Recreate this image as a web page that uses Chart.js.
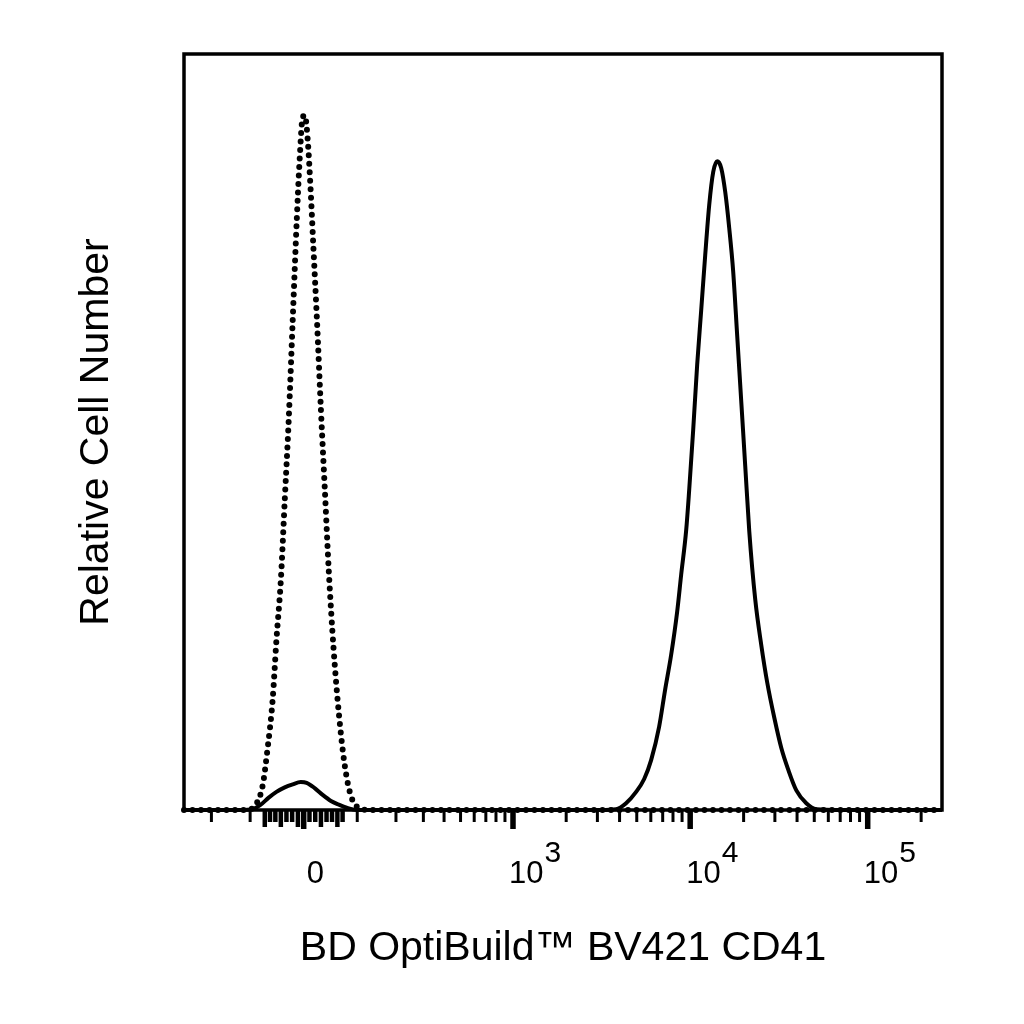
<!DOCTYPE html>
<html>
<head>
<meta charset="utf-8">
<script src="https://cdn.jsdelivr.net/npm/chart.js@4.4.1/dist/chart.umd.min.js"></script>
<style>
  html, body { margin: 0; padding: 0; background: #fff; }
</style>
</head>
<body>
<canvas id="histo" width="1024" height="1024"></canvas>
<script>
// fluorescence values (BV421) and relative counts
const stainedX = [-300, -121, -95, -78, -63, -48, -33, -19, -5, 5, 19, 33, 48, 63, 78, 99,
    1870, 3146, 3823, 4352, 4959, 5505, 6025, 6682, 7223, 7809, 8443, 8895, 9493, 9870,
    10400, 10950, 11535, 12152, 12797, 13484, 14206, 14964, 15764, 16588, 17471, 18404,
    19389, 20424, 21517, 23263, 25152, 27195, 29778, 32612, 35717, 39628, 45090, 51338,
    71070, 262144];
const stainedY = [0, 0, 0.1, 0.7, 1.6, 2.4, 3.0, 3.4, 3.7, 3.6, 2.9, 2.0, 1.2, 0.7, 0.3, 0,
    0, 0, 0.1, 0.9, 2.4, 4.1, 6.6, 11.0, 15.9, 20.5, 26.2, 31.1, 37.0, 42.3,
    50.3, 58.9, 66.1, 73.4, 80.0, 84.4, 85.8, 84.9, 81.7, 77.0, 71.2, 62.7,
    54.1, 45.5, 36.9, 27.8, 21.8, 16.8, 12.2, 8.2, 5.3, 2.6, 0.9, 0.1,
    0, 0];

const isotypeX = [-300, -121, -99, -86, -74, -65, -55, -48, -40, -33, -26, -19, -12, -7, -2,
    2, 7, 12, 17, 23, 30, 37, 44, 53, 63, 74, 86, 103, 131, 262144];
const isotypeY = [0, 0, 0.1, 0.9, 3.3, 7.9, 14.6, 22.5, 30.4, 41.0, 51.6, 64.8, 78.0, 86.0, 91.5,
    91.9, 88.6, 82.0, 74.1, 64.8, 52.9, 42.3, 31.7, 21.2, 12.6, 6.0, 2.0, 0.3, 0, 0];

const majorTicks = [0, 1000, 10000, 100000];
const majorExp = [null, 3, 4, 5];
const denseTicks = [-70, -60, -50, -40, -30, -20, -10, 10, 20, 30, 40, 50, 60, 70];
const minorTicks = [-200, -100, 100, 200, 300, 400, 500, 600, 700, 800, 900,
    2000, 3000, 4000, 5000, 6000, 7000, 8000, 9000,
    20000, 30000, 40000, 50000, 60000, 70000, 80000, 90000, 200000];

const xMin = -300, xMax = 262144;
const xTitle = 'BD OptiBuild™ BV421 CD41';
const yTitle = 'Relative Cell Number';

const FONT = '"Liberation Sans", Arial, sans-serif';

// biexponential-like axis (asinh)
const BIEX_W = 133;
function biex(v) { return Math.asinh(v / BIEX_W); }

class BiexScale extends Chart.Scale {
    determineDataLimits() {
        this.min = this.options.min;
        this.max = this.options.max;
    }
    buildTicks() {
        return majorTicks.map(v => ({ value: v }));
    }
    configure() {
        super.configure();
        this._biexStart = biex(this.min);
        this._biexRange = biex(this.max) - biex(this.min);
    }
    getPixelForValue(value) {
        return this.getPixelForDecimal((biex(value) - this._biexStart) / this._biexRange);
    }
    getValueForPixel(pixel) {
        const d = this.getDecimalForPixel(pixel);
        return BIEX_W * Math.sinh(this._biexStart + d * this._biexRange);
    }
}
BiexScale.id = 'biex';
BiexScale.defaults = {};
Chart.register(BiexScale);

function toPoints(xs, ys) {
    return xs.map((x, i) => ({ x: x, y: ys[i] }));
}

/** draws the frame and the tick marks under the curves */
const framePlugin = {
    id: 'frame',
    beforeDatasetsDraw(chart) {
        const ctx = chart.ctx;
        const a = chart.chartArea;
        const xs = chart.scales.x;
        ctx.save();
        ctx.strokeStyle = '#000';
        ctx.lineWidth = 3.5;
        ctx.strokeRect(a.left, a.top, a.right - a.left, a.bottom - a.top);

        const tick = (v, len, w) => {
            const px = xs.getPixelForValue(v);
            ctx.lineWidth = w;
            ctx.beginPath();
            ctx.moveTo(px, a.bottom);
            ctx.lineTo(px, a.bottom + len);
            ctx.stroke();
        };
        minorTicks.forEach(v => tick(v, 12, 3));
        denseTicks.forEach((v, i) => tick(v, (i % 3 === 0) ? 17 : 12, 4.5));
        majorTicks.forEach(v => tick(v, 19, 5.5));
        ctx.restore();
    },
    afterDraw(chart) {
        const ctx = chart.ctx;
        const a = chart.chartArea;
        const xs = chart.scales.x;
        ctx.save();
        ctx.fillStyle = '#000';
        ctx.textBaseline = 'alphabetic';
        ctx.textAlign = 'left';

        majorTicks.forEach((v, i) => {
            const px = xs.getPixelForValue(v);
            ctx.font = '31px ' + FONT;
            if (majorExp[i] === null) {
                ctx.fillText('0', px + 3, 883);
            } else {
                ctx.fillText('10', px - 4, 883);
                const w = ctx.measureText('10').width;
                ctx.font = '30px ' + FONT;
                ctx.fillText(String(majorExp[i]), px - 3 + w, 862);
            }
        });

        ctx.font = '41px ' + FONT;
        ctx.textAlign = 'center';
        ctx.fillText(xTitle, (a.left + a.right) / 2, 960);

        ctx.translate(108, (a.top + a.bottom) / 2);
        ctx.rotate(-Math.PI / 2);
        ctx.fillText(yTitle, 0, 0);
        ctx.restore();
    }
};

new Chart(document.getElementById('histo'), {
    type: 'line',
    data: {
        datasets: [{
            label: 'Isotype control',
            data: toPoints(isotypeX, isotypeY),
            borderColor: '#000',
            borderWidth: 6,
            borderDash: [0, 8.5],
            borderCapStyle: 'round',
            cubicInterpolationMode: 'monotone',
            pointRadius: 0,
            fill: false,
            clip: 6
        }, {
            label: 'BV421 CD41',
            data: toPoints(stainedX, stainedY),
            borderColor: '#000',
            borderWidth: 4,
            cubicInterpolationMode: 'monotone',
            pointRadius: 0,
            fill: false,
            clip: 6
        }]
    },
    options: {
        responsive: false,
        animation: false,
        devicePixelRatio: 1,
        layout: { padding: { left: 184, right: 82, top: 54, bottom: 214 } },
        plugins: { legend: { display: false }, tooltip: { enabled: false } },
        scales: {
            x: { type: 'biex', min: xMin, max: xMax, display: false },
            y: { type: 'linear', min: 0, max: 100, display: false }
        }
    },
    plugins: [framePlugin]
});
</script>
</body>
</html>
